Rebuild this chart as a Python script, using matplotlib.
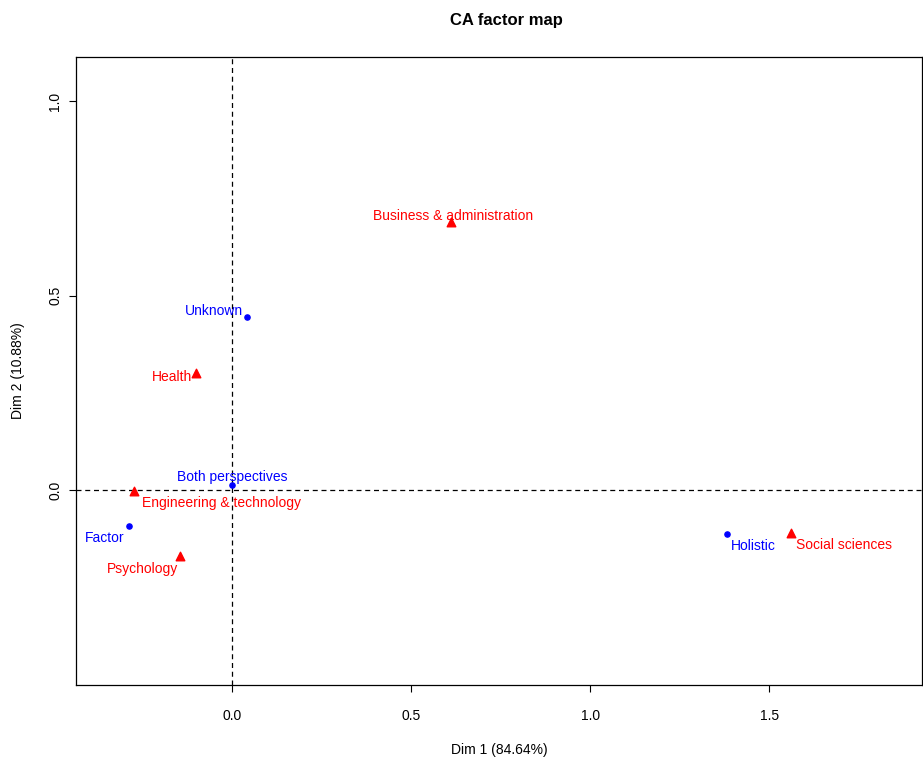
import matplotlib
matplotlib.use('Agg')
import matplotlib.pyplot as plt

plt.rcParams['font.family'] = ['Liberation Sans', 'DejaVu Sans']

# column categories (blue dots)
col_names = ['Unknown', 'Both perspectives', 'Factor', 'Holistic']
col_x = [0.042, 0.000, -0.288, 1.383]
col_y = [0.445, 0.013, -0.093, -0.113]

# row categories (red triangles)
row_names = ['Business & administration', 'Health', 'Engineering & technology',
             'Psychology', 'Social sciences']
row_x = [0.612, -0.101, -0.274, -0.145, 1.561]
row_y = [0.689, 0.301, -0.003, -0.170, -0.111]

# label placement (pixel offsets, alignment)
col_lab = [(-4, 6, 'right'), (0, 8, 'center'), (-24, -12, 'center'), (4, -12, 'left')]
row_lab = [(2, 6, 'center'), (-4, -4, 'right'), (8, -12, 'left'),
           (-38, -13, 'center'), (5, -12, 'left')]

W, H = 923, 759
fig = plt.figure(figsize=(W / 100, H / 100), dpi=100)
ax = fig.add_axes([76 / W, 74 / H, (922 - 76) / W, (685 - 57) / H])

ax.axhline(0, color='black', ls=(0, (4, 3)), lw=0.9, zorder=1)
ax.axvline(0, color='black', ls=(0, (4, 3)), lw=0.9, zorder=1)

ax.scatter(col_x, col_y, s=14, color='blue', marker='o', zorder=3)
ax.scatter(row_x, row_y, s=38, color='red', marker='^', zorder=3)

for name, x, y, (dx, dy, ha) in zip(col_names, col_x, col_y, col_lab):
    ax.annotate(name, (x, y), xytext=(dx, dy), textcoords='offset pixels',
                ha=ha, va='center', color='blue', fontsize=10, zorder=4)
for name, x, y, (dx, dy, ha) in zip(row_names, row_x, row_y, row_lab):
    ax.annotate(name, (x, y), xytext=(dx, dy), textcoords='offset pixels',
                ha=ha, va='center', color='red', fontsize=10, zorder=4)

ax.set_xlim(-0.436, 1.927)
ax.set_ylim(-0.501, 1.113)
ax.set_xticks([0.0, 0.5, 1.0, 1.5])
ax.set_xticklabels(['0.0', '0.5', '1.0', '1.5'])
ax.set_yticks([0.0, 0.5, 1.0])
ax.set_yticklabels(['0.0', '0.5', '1.0'], rotation=90, va='center')
ax.tick_params(direction='out', length=5, width=0.8, labelsize=10)
ax.tick_params(axis='x', pad=12)
ax.tick_params(axis='y', pad=5)
for sp in ax.spines.values():
    sp.set_linewidth(0.9)

fig.text(499 / W, 1 - 750 / H, 'Dim 1 (84.64%)', ha='center', va='center', fontsize=10)
fig.text(18 / W, 1 - 371 / H, 'Dim 2 (10.88%)', ha='center', va='center',
         rotation=90, fontsize=10)
fig.text(506 / W, 1 - 20 / H, 'CA factor map', ha='center', va='center',
         fontsize=12, fontweight='bold')

fig.savefig('out.png', dpi=100)
